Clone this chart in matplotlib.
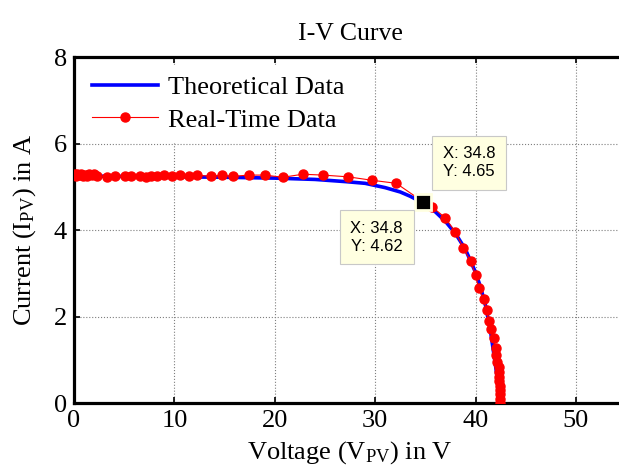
import matplotlib.pyplot as plt

plt.rcParams['font.family'] = ['Liberation Serif', 'DejaVu Serif']
plt.rcParams['mathtext.fontset'] = 'custom'
plt.rcParams['mathtext.rm'] = 'Liberation Serif'
plt.rcParams['mathtext.it'] = 'Liberation Serif:italic'

# theoretical curve
v_theo = [0, 5, 10, 15, 20, 24, 27, 29, 31, 32.5, 33.5, 34.8, 36, 37, 38, 39,
          40, 40.5, 41, 41.5, 42, 42.3, 42.45]
i_theo = [5.25, 5.24, 5.23, 5.22, 5.2, 5.17, 5.12, 5.08, 4.98, 4.88, 4.78, 4.62,
          4.42, 4.2, 3.92, 3.55, 3.02, 2.68, 2.25, 1.65, 0.85, 0.35, 0.0]

# measured points
v_real = [0.0, 0.1, 0.2, 0.3, 0.5, 0.7, 0.9, 1.1, 1.3, 1.5, 1.8, 2.0, 2.3, 3.3,
          4.1, 5.1, 5.7, 6.6, 7.2, 7.7, 8.3, 9.0, 9.8, 10.6, 11.5, 12.3, 13.6,
          14.7, 15.8, 17.4, 19.0, 20.8, 22.8, 24.8, 27.3, 29.7, 32.1, 34.8,
          35.7, 37.0, 38.0, 38.8, 39.5, 40.0, 40.3, 40.8, 41.1, 41.3, 41.5,
          41.8, 42.0, 42.0, 42.1, 42.3, 42.3, 42.35, 42.35, 42.4, 42.4, 42.4,
          42.4, 42.4]
i_real = [5.27, 5.30, 5.25, 5.29, 5.27, 5.30, 5.26, 5.28, 5.25, 5.29, 5.27, 5.30,
          5.26, 5.23, 5.26, 5.25, 5.25, 5.24, 5.22, 5.24, 5.25, 5.27, 5.24, 5.27,
          5.24, 5.27, 5.24, 5.27, 5.24, 5.27, 5.27, 5.22, 5.29, 5.27, 5.23, 5.15,
          5.08, 4.65, 4.53, 4.28, 3.95, 3.58, 3.28, 2.96, 2.65, 2.40, 2.15, 1.90,
          1.71, 1.50, 1.27, 1.11, 0.95, 0.83, 0.72, 0.60, 0.50, 0.40, 0.30, 0.20,
          0.10, 0.0]

tip_x = 34.8
tip_y_real = 4.65
tip_y_theo = 4.62

fig = plt.figure(figsize=(6.19, 4.69), dpi=100)
ax = fig.add_axes([0.1195, 0.1407, 0.892, 0.7377])

ax.plot(v_theo, i_theo, color='#0000ff', lw=2.6, label='Theoretical Data', zorder=3)
ax.plot(v_real, i_real, color='#ff0000', lw=0.8, marker='o', markersize=6.5,
        label='Real-Time Data', zorder=4)

ax.set_xlim(0, 55)
ax.set_ylim(0, 8)
ax.set_xticks([0, 10, 20, 30, 40, 50])
ax.set_yticks([0, 2, 4, 6, 8])
ax.grid(True, color='#7f7f7f', linestyle=':', linewidth=0.8)
ax.set_axisbelow(True)

for s in ax.spines.values():
    s.set_linewidth(2.3)
ax.tick_params(direction='in', top=True, right=True, length=4, width=1.2,
               labelsize=19, pad=5)

ax.set_title('I-V Curve', fontsize=18.5, pad=12)
ax.set_xlabel('Voltage (V$_{\\mathrm{PV}}$) in V', fontsize=19, labelpad=5)
ax.set_ylabel('Current (I$_{\\mathrm{PV}}$) in A', fontsize=19, labelpad=11)

leg = ax.legend(loc='upper left', fontsize=19, frameon=True, fancybox=False,
                edgecolor='white', facecolor='white', framealpha=1,
                handlelength=2.5, numpoints=1, borderaxespad=0.3,
                labelspacing=0.35, handletextpad=0.35)

# data tips
ax.plot([tip_x], [tip_y_real], marker='s', color='black', markersize=11,
        markeredgecolor='#ffffe1', markeredgewidth=2, zorder=6)
box = dict(boxstyle='square,pad=0.65', facecolor='#ffffe1', edgecolor='#c8c8c8', lw=0.8)
ax.text(39.35, 5.56, 'X: %.1f\nY: %.2f' % (tip_x, tip_y_real), family='Liberation Sans',
        fontsize=12, ha='center', va='center', linespacing=1.2, bbox=box, zorder=7)
ax.text(30.15, 3.83, 'X: %.1f\nY: %.2f' % (tip_x, tip_y_theo), family='Liberation Sans',
        fontsize=12, ha='center', va='center', linespacing=1.2, bbox=box, zorder=7)

fig.savefig('out.png', dpi=100)
